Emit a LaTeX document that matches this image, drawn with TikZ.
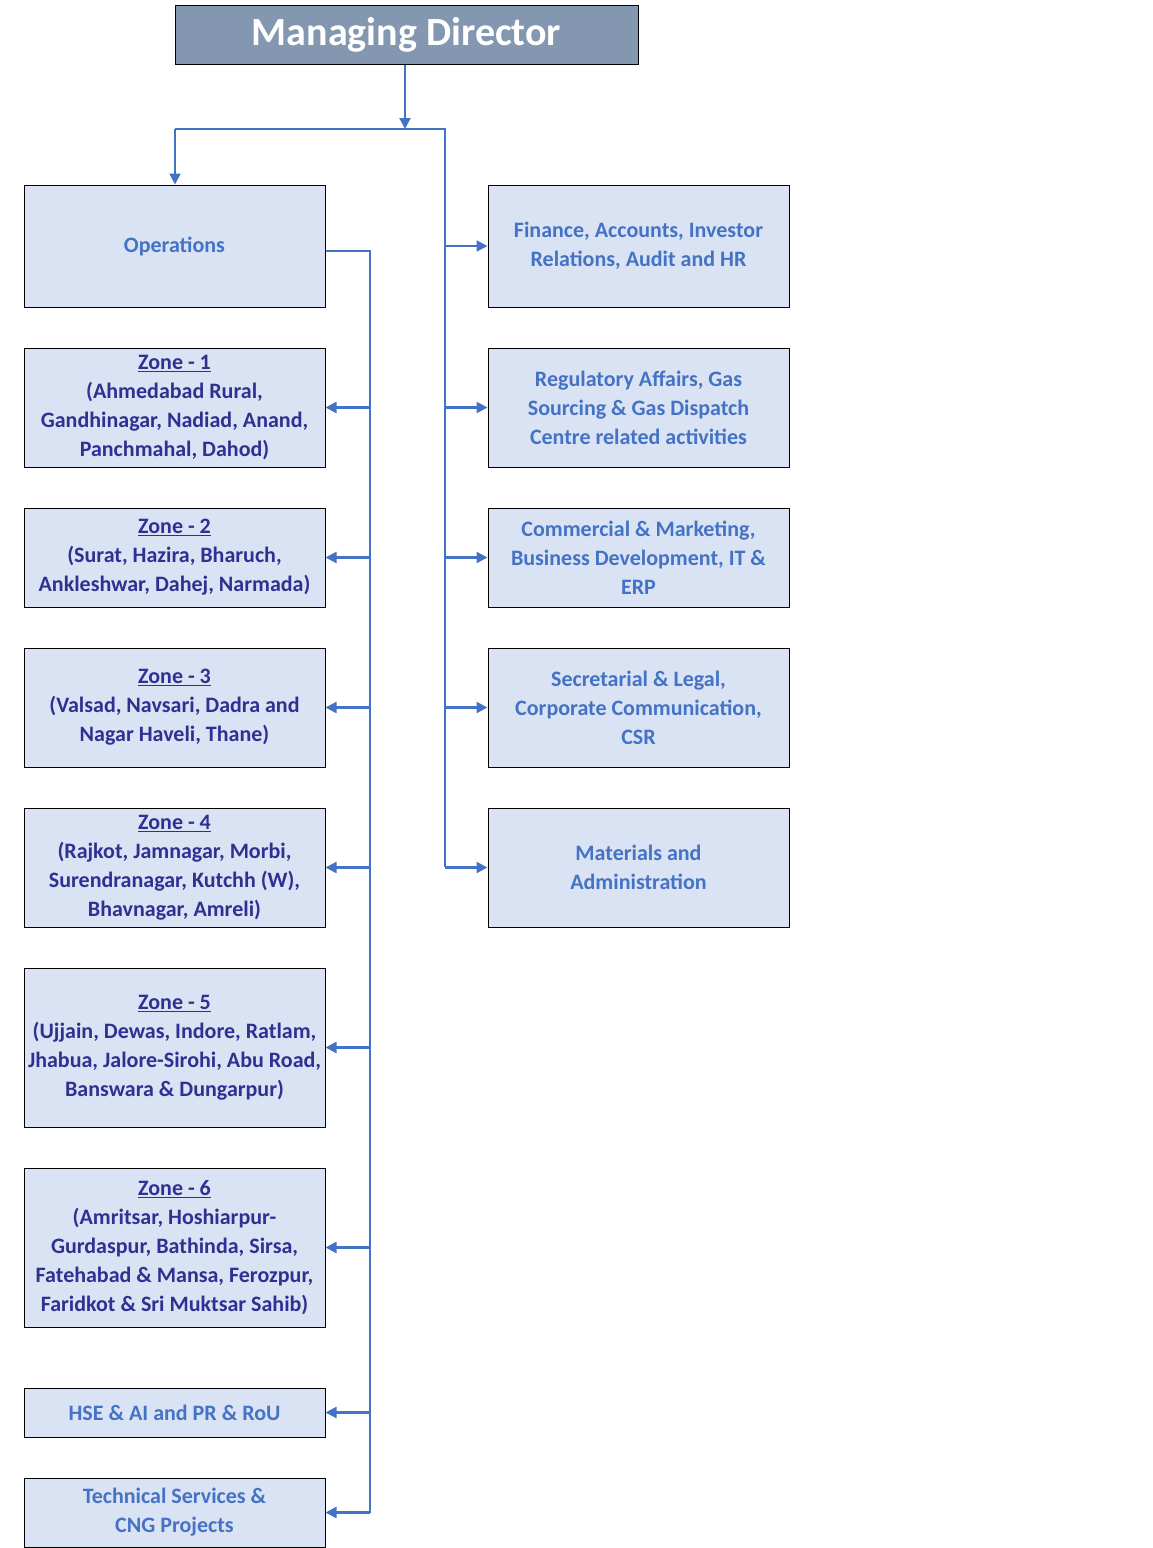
\documentclass[tikz,border=0pt]{standalone}
\usepackage{fontspec}
\setmainfont{Carlito}
\usetikzlibrary{arrows.meta}
\definecolor{mdfill}{HTML}{8497B0}
\definecolor{boxfill}{HTML}{DAE3F3}
\definecolor{lblue}{HTML}{4472C4}
\definecolor{dblue}{HTML}{2E3192}
\begin{document}
\begin{tikzpicture}[x=1pt,y=-1pt,
  box/.style={draw=black, line width=1pt, fill=boxfill, minimum width=301pt, inner sep=0pt, align=center, font=\bfseries\fontsize{22}{29}\selectfont},
  opbox/.style={box, text=lblue},
  zonebox/.style={box, text=dblue},
  mdbox/.style={draw=black, line width=1pt, fill=mdfill, text=white, minimum width=463pt, minimum height=59pt, inner sep=0pt, font=\bfseries\fontsize{40}{44}\selectfont},
  conn/.style={draw=lblue, line width=2.2pt},
  arr/.style={conn, -{Triangle[length=11pt,width=11pt]}}]
\useasboundingbox (0,0) rectangle (1152,1548);
\node[mdbox] (md) at (406.5,34.5) {Managing Director};
% left column
\node[opbox, minimum height=122pt] (ops) at (174.5,246) {Operations};
\node[zonebox, minimum height=119pt] (z1) at (174.5,407.5) {\underline{Zone - 1}\\(Ahmedabad Rural,\\Gandhinagar, Nadiad, Anand,\\Panchmahal, Dahod)};
\node[zonebox, minimum height=99pt] (z2) at (174.5,557.5) {\underline{Zone - 2}\\(Surat, Hazira, Bharuch,\\Ankleshwar, Dahej, Narmada)};
\node[zonebox, minimum height=119pt] (z3) at (174.5,707.5) {\underline{Zone - 3}\\(Valsad, Navsari, Dadra and\\Nagar Haveli, Thane)};
\node[zonebox, minimum height=119pt] (z4) at (174.5,867.5) {\underline{Zone - 4}\\(Rajkot, Jamnagar, Morbi,\\Surendranagar, Kutchh (W),\\Bhavnagar, Amreli)};
\node[zonebox, minimum height=159pt] (z5) at (174.5,1047.5) {\underline{Zone - 5}\\(Ujjain, Dewas, Indore, Ratlam,\\Jhabua, Jalore-Sirohi, Abu Road,\\Banswara \& Dungarpur)};
\node[zonebox, minimum height=159pt] (z6) at (174.5,1247.5) {\underline{Zone - 6}\\(Amritsar, Hoshiarpur-\\Gurdaspur, Bathinda, Sirsa,\\Fatehabad \& Mansa, Ferozpur,\\Faridkot \& Sri Muktsar Sahib)};
\node[opbox, minimum height=49pt] (hse) at (174.5,1412.5) {HSE \& AI and PR \& RoU};
\node[opbox, minimum height=69pt] (tech) at (174.5,1512.5) {Technical Services \&\\CNG Projects};
% right column
\node[opbox, minimum height=122pt] (fin) at (638.5,246) {Finance, Accounts, Investor\\Relations, Audit and HR};
\node[opbox, minimum height=119pt] (reg) at (638.5,407.5) {Regulatory Affairs, Gas\\Sourcing \& Gas Dispatch\\Centre related activities};
\node[opbox, minimum height=99pt] (com) at (638.5,557.5) {Commercial \& Marketing,\\Business Development, IT \&\\ERP};
\node[opbox, minimum height=119pt] (sec) at (638.5,707.5) {Secretarial \& Legal,\\Corporate Communication,\\CSR};
\node[opbox, minimum height=119pt] (mat) at (638.5,867.5) {Materials and\\Administration};
% connectors
\coordinate (j1) at (405,129);
\coordinate (busL) at (175,129);
\coordinate (busR) at (445,129);
\coordinate (busRend) at (446,129);
\coordinate (rbot) at (445,867);
\coordinate (lv) at (370,251);
\coordinate (lbot) at (370,1513);
\draw[arr] (md.south -| j1) -- (j1);
\draw[conn] (busL) -- (busRend);
\draw[arr] (busL) -- (ops.north -| busL);
\draw[conn] (busR) -- (rbot);
\foreach \n in {fin,reg,com,sec,mat} \draw[arr] (busR |- \n.west) -- (\n.west);
\draw[conn] (ops.east |- lv) -- (lv) -- (lbot);
\foreach \n in {z1,z2,z3,z4,z5,z6,hse,tech} \draw[arr] (lv |- \n.east) -- (\n.east);
\end{tikzpicture}
\end{document}
